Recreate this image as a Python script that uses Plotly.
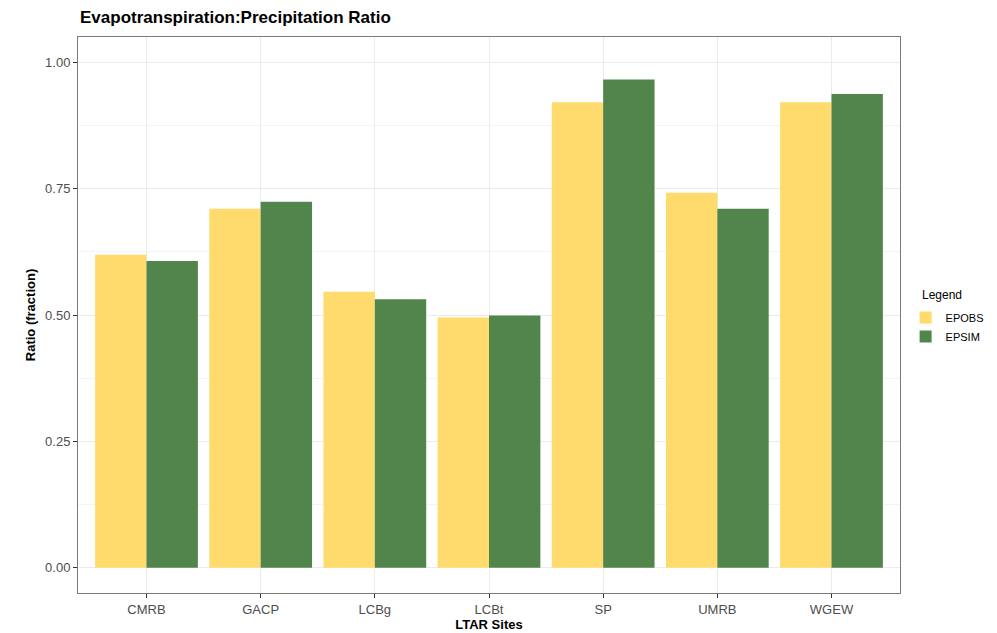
import plotly.graph_objects as go

sites = ["CMRB", "GACP", "LCBg", "LCBt", "SP", "UMRB", "WGEW"]
epobs = [0.619, 0.710, 0.546, 0.495, 0.921, 0.742, 0.921]
epsim = [0.607, 0.724, 0.531, 0.499, 0.966, 0.710, 0.937]
y_ticks = [0.0, 0.25, 0.5, 0.75, 1.0]
y_tick_labels = ["0.00", "0.25", "0.50", "0.75", "1.00"]

FONT = "Liberation Sans, Arial, sans-serif"
W, H = 989, 625
L, R, T, B = 70, 97, 29, 40
PW, PH = W - L - R, H - T - B

fig = go.Figure()
fig.add_trace(go.Bar(x=sites, y=epobs, name="EPOBS", marker=dict(color="#FFDB6D", line=dict(width=0))))
fig.add_trace(go.Bar(x=sites, y=epsim, name="EPSIM", marker=dict(color="#52854C", line=dict(width=0))))

fig.update_layout(
    width=W, height=H,
    margin=dict(l=L, r=R, t=T, b=B, autoexpand=False),
    paper_bgcolor="white", plot_bgcolor="white",
    barmode="group", bargap=0.1, bargroupgap=0,
    font=dict(family=FONT, size=13, color="#1a1a1a"),
    title=dict(text="<b>Evapotranspiration:Precipitation Ratio</b>", x=72/W, xanchor="left",
               y=1 - 9/H, yanchor="middle", font=dict(size=17, color="black"), automargin=False),
    legend=dict(x=(905.6 - 8 - L)/PW, xanchor="left",
                y=1 - (303 - 8 - T)/PH, yanchor="top", bgcolor="rgba(0,0,0,0)",
                font=dict(size=11, color="black"), tracegroupgap=0),
    showlegend=True,
    annotations=[dict(text="Legend", xref="paper", yref="paper",
                      x=(920 - 8 - L)/PW, xanchor="left",
                      y=1 - (295 - 8 - T)/PH, yanchor="middle",
                      showarrow=False, font=dict(size=12, color="black"))],
)
fig.update_xaxes(
    range=[-0.6, 6.6], showgrid=True, gridcolor="#EBEBEB", gridwidth=1,
    ticks="outside", ticklen=4, tickcolor="#333333", automargin=False,
    tickfont=dict(size=13, color="#4D4D4D"),
    title=dict(text="<b>LTAR Sites</b>", font=dict(size=13, color="black"), standoff=2),
    showline=True, linecolor="#7a7a7a", mirror=True, zeroline=False,
)
fig.update_yaxes(
    range=[-0.05, 1.05], tickvals=y_ticks, ticktext=y_tick_labels, automargin=False,
    showgrid=True, gridcolor="#EBEBEB", gridwidth=1,
    minor=dict(tickvals=[0.125, 0.375, 0.625, 0.875], showgrid=True, gridcolor="#F4F4F4", gridwidth=1),
    ticks="outside", ticklen=4, tickcolor="#333333",
    tickfont=dict(size=13, color="#4D4D4D"),
    title=dict(text="<b>Ratio (fraction)</b>", font=dict(size=13, color="black"), standoff=6),
    showline=True, linecolor="#7a7a7a", mirror=True, zeroline=False,
)

fig.write_html("out.html")
